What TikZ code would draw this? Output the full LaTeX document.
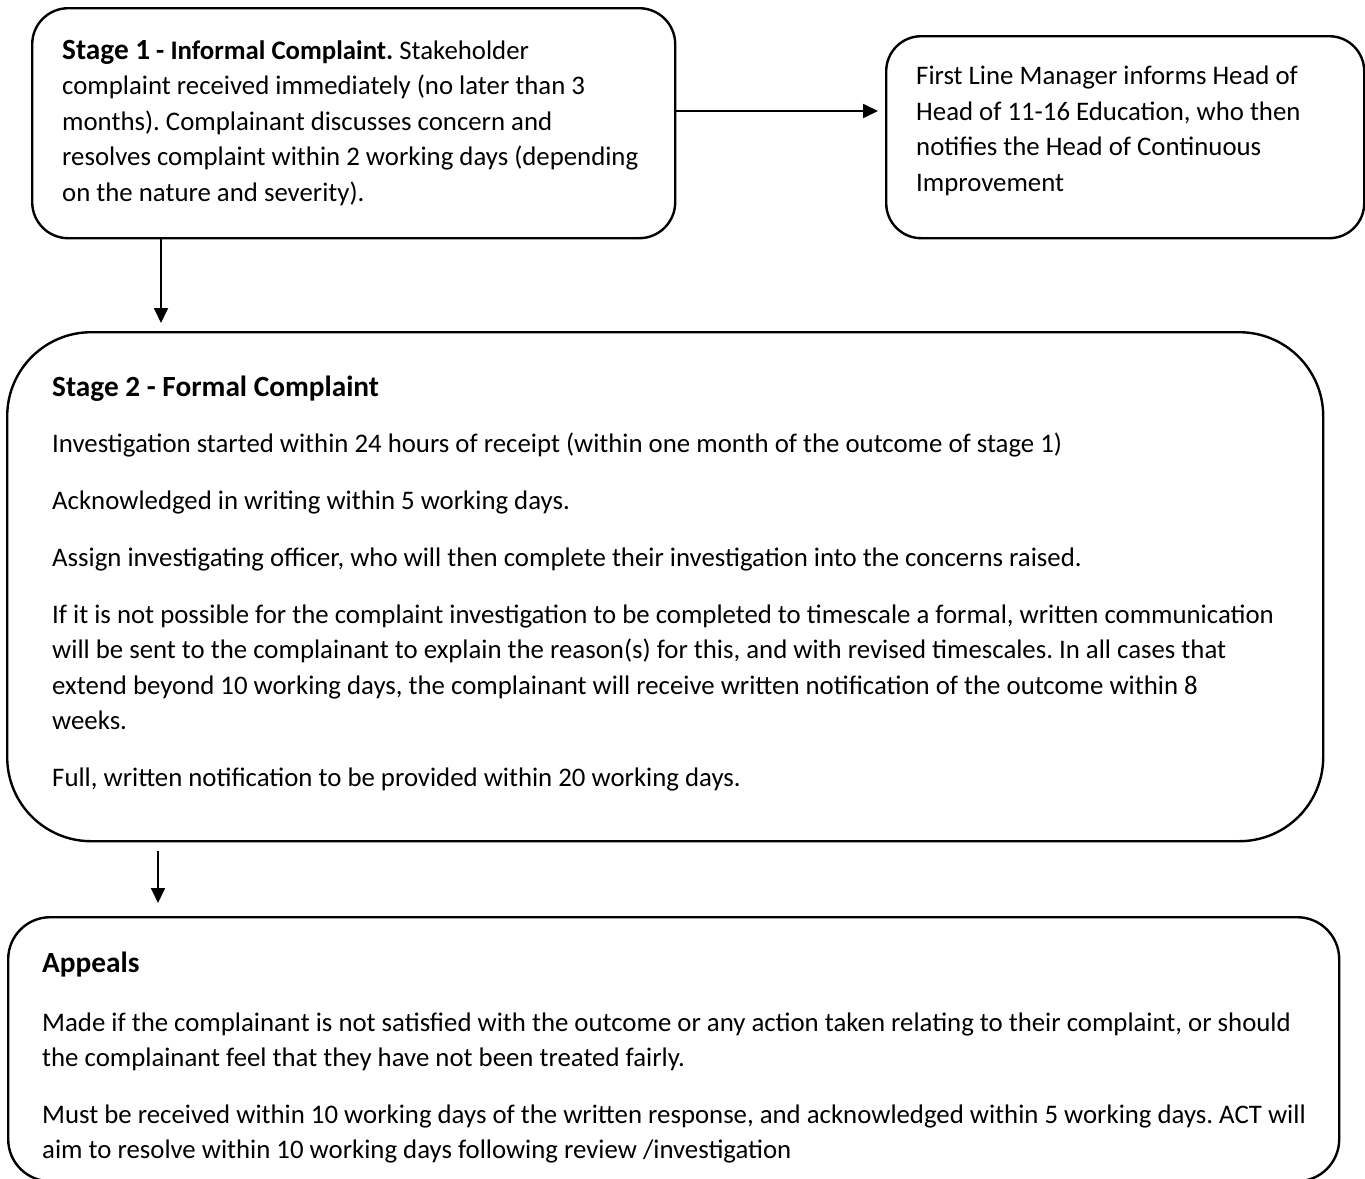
\documentclass[tikz,border=0pt]{standalone}
\usepackage{fontspec}
\setmainfont{Carlito}
\usetikzlibrary{arrows.meta}
\frenchspacing
\begin{document}
\begin{tikzpicture}[x=1pt,y=-1pt,
  box/.style={draw=black, line width=2.4pt, rounded corners=#1, inner sep=0pt, anchor=north west},
  txt/.style={anchor=base west, inner sep=0pt, font=\fontsize{26.8}{35.5}\selectfont},
  head/.style={anchor=base west, inner sep=0pt, font=\fontsize{29.3}{35.5}\selectfont\bfseries},
  arr/.style={line width=1.8pt, -{Triangle[length=15pt,width=14pt]}}]
\useasboundingbox (0,0) rectangle (1365,1178);

% boxes
\node[box=36pt, minimum width=643pt, minimum height=230pt] (s1) at (31,7) {};
\node[box=35pt, minimum width=478pt, minimum height=202pt] (s2) at (885,35) {};
\node[box=84pt, minimum width=1316pt, minimum height=509pt] (f) at (6,331) {};
\node[box=42pt, minimum width=1331pt, minimum height=264pt] (ap) at (7,916) {};

% connectors
\coordinate (ay) at (0,111);
\coordinate (ax) at (161,0);
\coordinate (bx) at (158,0);
\draw[arr] (s1.east |- ay) -- ([xshift=-7pt]s2.west |- ay);
\draw[arr] (s1.south -| ax) -- ([yshift=8pt]f.north -| ax);
\draw[arr] ([yshift=-9pt]f.south -| bx) -- ([yshift=13pt]ap.north -| bx);

% stage 1 text
\node[txt] (s1l1) at (62,59) {{\fontsize{29.3}{35.5}\selectfont\bfseries Stage 1} \textbf{- Informal Complaint.} Stakeholder};
\node[txt] (s1l2) at (62,94.5) {complaint received immediately (no later than 3};
\node[txt] (s1l3) at (62,130) {months). Complainant discusses concern and};
\node[txt] (s1l4) at (62,165.5) {resolves complaint within 2 working days (depending};
\node[txt] (s1l5) at (62,201) {on the nature and severity).};

% right box text
\node[txt] (s2l1) at (916,84.5) {First Line Manager informs Head of};
\node[txt] (s2l2) at (916,120) {Head of 11-16 Education, who then};
\node[txt] (s2l3) at (916,155.5) {notifies the Head of Continuous};
\node[txt] (s2l4) at (916,191) {Improvement};

% stage 2 text
\node[head] (fh) at (52,396) {Stage 2 - Formal Complaint};
\node[txt] (fl1) at (52,452) {Investigation started within 24 hours of receipt (within one month of the outcome of stage 1)};
\node[txt] (fl2) at (52,509) {Acknowledged in writing within 5 working days.};
\node[txt] (fl3) at (52,566) {Assign investigating officer, who will then complete their investigation into the concerns raised.};
\node[txt] (fl4) at (52,623) {If it is not possible for the complaint investigation to be completed to timescale a formal, written communication};
\node[txt] (fl5) at (52,658.5) {will be sent to the complainant to explain the reason(s) for this, and with revised timescales. In all cases that};
\node[txt] (fl6) at (52,694) {extend beyond 10 working days, the complainant will receive written notification of the outcome within 8};
\node[txt] (fl7) at (52,729.5) {weeks.};
\node[txt] (fl8) at (52,786.5) {Full, written notification to be provided within 20 working days.};

% appeals text
\node[head] (aph) at (42,972) {Appeals};
\node[txt] (apl1) at (42,1031) {Made if the complainant is not satisfied with the outcome or any action taken relating to their complaint, or should};
\node[txt] (apl2) at (42,1066.5) {the complainant feel that they have not been treated fairly.};
\node[txt] (apl3) at (42,1123) {Must be received within 10 working days of the written response, and acknowledged within 5 working days. ACT will};
\node[txt] (apl4) at (42,1158) {aim to resolve within 10 working days following review /investigation};
\end{tikzpicture}
\end{document}
